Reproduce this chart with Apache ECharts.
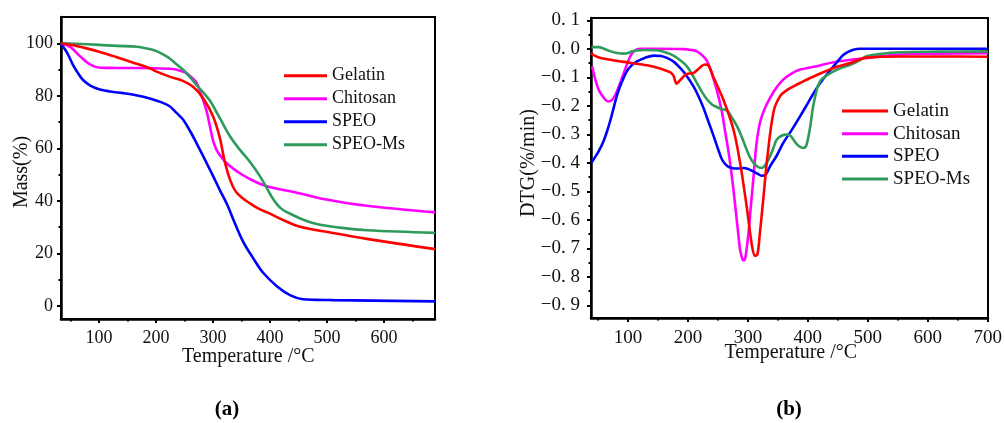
<!DOCTYPE html>
<html>
<head>
<meta charset="utf-8">
<script src="https://cdn.jsdelivr.net/npm/echarts@6/dist/echarts.min.js"></script>
<style>
html,body{margin:0;padding:0;background:#fff;}
#c{width:1005px;height:423px;}
</style>
</head>
<body>
<div id="c"></div>
<script>
// ---------- (a) TGA data ----------
const seriesNames = ['Gelatin', 'Chitosan', 'SPEO', 'SPEO-Ms'];
const seriesColors = ['#ff0000', '#ff00ff', '#0000ff', '#2e9a5c'];

const tgaGelatinT = [33, 60, 100, 130, 160, 189, 200, 225, 248, 265, 283, 300, 312, 320, 330, 340, 352, 365, 380, 399, 423, 453, 499, 570, 690];
const tgaGelatinM = [100, 99, 96.8, 94.8, 92.6, 90.5, 89.3, 87.2, 85.6, 83.4, 79, 72.2, 64, 55.5, 48, 43.5, 41, 39, 37, 35.2, 32.7, 30.1, 28.2, 25.5, 21.6];

const tgaChitosanT = [33, 50, 67, 84, 102, 130, 200, 230, 242, 252, 260, 271, 280, 289, 295, 300, 306, 312, 324, 347, 365, 382, 399, 453, 499, 570, 690];
const tgaChitosanM = [100, 98.5, 95, 92, 90.7, 90.6, 90.5, 90.2, 89.6, 88.8, 87.5, 85, 80, 74, 68, 63, 59.5, 57.4, 54.3, 50.5, 48.3, 46.5, 45.3, 42.8, 40.5, 38.1, 35.6];

const tgaSpeoT = [33, 45, 55, 65, 72, 84, 100, 120, 142, 165, 189, 210, 224, 236, 248, 260, 271, 289, 300, 312, 325, 336, 353, 371, 388, 412, 435, 458, 480, 511, 690];
const tgaSpeoM = [100, 96, 91.5, 88, 86, 84, 82.5, 81.6, 81, 80.2, 79, 77.5, 76, 73.5, 70.8, 66.5, 62, 54.3, 49.5, 44.1, 38.5, 32.7, 24.4, 18, 12.6, 7.5, 4.1, 2.5, 2.3, 2.2, 1.7];

const tgaSpeoMsT = [33, 60, 100, 131, 166, 189, 201, 212, 224, 236, 248, 260, 271, 282, 295, 312, 330, 347, 365, 382, 394, 406, 415, 423, 438, 453, 475, 499, 530, 570, 690];
const tgaSpeoMsM = [100, 99.8, 99.4, 99, 98.7, 97.8, 97, 95.8, 94.2, 92, 89.8, 87, 84.1, 81.5, 78, 71.5, 64.5, 59.5, 54.8, 49.5, 45, 40.5, 38, 36.5, 34.8, 33.3, 31.6, 30.5, 29.6, 28.8, 27.8];

// ---------- (b) DTG data ----------
const dtgGelatinT = [38, 45, 54, 75, 100, 132, 155, 170, 176, 181, 187, 198, 209, 218, 228, 234, 243, 259, 276, 287, 298, 307, 312, 316, 320, 326, 332, 343, 354, 365, 376, 387, 415, 443, 471, 498, 554, 620, 700];
const dtgGelatinV = [-0.015, -0.025, -0.032, -0.04, -0.048, -0.058, -0.07, -0.082, -0.095, -0.122, -0.11, -0.088, -0.085, -0.07, -0.055, -0.058, -0.102, -0.178, -0.284, -0.40, -0.553, -0.693, -0.726, -0.72, -0.646, -0.52, -0.389, -0.219, -0.165, -0.145, -0.132, -0.12, -0.092, -0.067, -0.05, -0.031, -0.027, -0.027, -0.028];

const dtgChitosanT = [40, 51, 62, 67, 73, 79, 86, 93, 100, 107, 114, 121, 150, 193, 205, 215, 225, 232, 238, 243, 250, 257, 262, 268, 274, 279, 284, 287, 291, 293, 296, 301, 305, 309, 314, 320, 328, 337, 348, 359, 372, 387, 415, 443, 498, 554, 620, 700];
const dtgChitosanV = [-0.061, -0.143, -0.178, -0.185, -0.18, -0.161, -0.125, -0.085, -0.045, -0.015, -0.003, 0.0, 0.0, -0.001, -0.004, -0.009, -0.025, -0.044, -0.075, -0.108, -0.16, -0.225, -0.29, -0.365, -0.46, -0.553, -0.65, -0.705, -0.738, -0.742, -0.73, -0.646, -0.55, -0.459, -0.34, -0.26, -0.21, -0.172, -0.135, -0.108, -0.088, -0.073, -0.061, -0.047, -0.032, -0.02, -0.017, -0.015];

const dtgSpeoT = [39, 45, 51, 59, 65, 71, 77, 82, 90, 98, 106, 115, 128, 143, 155, 165, 176, 187, 198, 209, 218, 226, 235, 243, 250, 257, 265, 273, 283, 293, 301, 309, 316, 323, 330, 337, 348, 359, 373, 387, 401, 415, 429, 443, 452, 459, 468, 476, 487, 498, 550, 620, 700];
const dtgSpeoV = [-0.40, -0.38, -0.36, -0.325, -0.29, -0.248, -0.2, -0.161, -0.115, -0.079, -0.058, -0.044, -0.032, -0.024, -0.025, -0.032, -0.045, -0.067, -0.095, -0.131, -0.168, -0.208, -0.26, -0.307, -0.35, -0.389, -0.41, -0.418, -0.42, -0.418, -0.422, -0.43, -0.438, -0.445, -0.44, -0.412, -0.375, -0.33, -0.285, -0.237, -0.187, -0.137, -0.097, -0.061, -0.038, -0.022, -0.01, -0.003, 0.0, 0.0, 0.0, 0.0, 0.0];

const dtgSpeoMsT = [39, 51, 60, 71, 82, 93, 100, 107, 115, 126, 148, 162, 176, 187, 198, 207, 215, 223, 232, 240, 248, 257, 265, 273, 282, 290, 298, 306, 315, 323, 330, 337, 343, 348, 356, 365, 371, 376, 382, 388, 393, 398, 404, 409, 415, 420, 426, 434, 443, 457, 471, 485, 498, 520, 554, 620, 700];
const dtgSpeoMsV = [0.006, 0.006, 0.0, -0.009, -0.015, -0.017, -0.015, -0.009, -0.006, -0.004, -0.005, -0.012, -0.024, -0.04, -0.061, -0.09, -0.12, -0.15, -0.178, -0.195, -0.204, -0.212, -0.216, -0.24, -0.272, -0.31, -0.354, -0.39, -0.412, -0.418, -0.405, -0.377, -0.345, -0.319, -0.305, -0.301, -0.305, -0.319, -0.335, -0.345, -0.348, -0.335, -0.272, -0.2, -0.143, -0.115, -0.102, -0.09, -0.079, -0.066, -0.056, -0.042, -0.026, -0.018, -0.012, -0.01, -0.009];

// ---------- tick labels ----------
const tgaXTicks = [100, 200, 300, 400, 500, 600];
const tgaXMinor = [50, 150, 250, 350, 450, 550, 650];
const tgaYTicks = [0, 20, 40, 60, 80, 100];
const tgaYMinor = [10, 30, 50, 70, 90];
const dtgXTicks = [100, 200, 300, 400, 500, 600, 700];
const dtgXMinor = [50, 150, 250, 350, 450, 550, 650];
const dtgYTicks = [0.1, 0.0, -0.1, -0.2, -0.3, -0.4, -0.5, -0.6, -0.7, -0.8, -0.9];
const dtgYMinor = [0.05, -0.05, -0.15, -0.25, -0.35, -0.45, -0.55, -0.65, -0.75, -0.85];

const zip = (a, b) => a.map((t, i) => [t, b[i]]);
const tgaData = [zip(tgaGelatinT, tgaGelatinM), zip(tgaChitosanT, tgaChitosanM), zip(tgaSpeoT, tgaSpeoM), zip(tgaSpeoMsT, tgaSpeoMsM)];
const dtgData = [zip(dtgGelatinT, dtgGelatinV), zip(dtgChitosanT, dtgChitosanV), zip(dtgSpeoT, dtgSpeoV), zip(dtgSpeoMsT, dtgSpeoMsV)];

const FONT = '"Liberation Serif", "Times New Roman", serif';
const TXT = '#111';

function mainAxis(opts) {
  return Object.assign({
    type: 'value',
    axisLine: { show: true, onZero: false, lineStyle: { color: '#000', width: 2.5 } },
    splitLine: { show: false }
  }, opts);
}
function minorAxis(opts) {
  return Object.assign({
    type: 'value',
    axisLine: { show: false, onZero: false },
    splitLine: { show: false },
    axisLabel: { show: false }
  }, opts);
}
const majorTick = vals => ({ show: true, inside: false, length: 4, lineStyle: { color: '#000', width: 2 }, customValues: vals });
const minorTickOf = vals => ({ show: true, inside: false, length: 2.5, lineStyle: { color: '#000', width: 2 }, customValues: vals });

const fmtDtg = v => {
  const s = Math.abs(v).toFixed(1).replace('.', '. ');
  return (v < -1e-9 ? '\u2212' : '') + s;
};

const series = [];
seriesNames.forEach((n, i) => {
  series.push({
    name: n, type: 'line', xAxisIndex: 0, yAxisIndex: 0, data: tgaData[i],
    showSymbol: false, smooth: 0.35, color: seriesColors[i],
    lineStyle: { width: 2.6, color: seriesColors[i] }, z: 3 + (i === 0 ? 1 : 0)
  });
});
seriesNames.forEach((n, i) => {
  series.push({
    name: n, type: 'line', xAxisIndex: 2, yAxisIndex: 2, data: dtgData[i],
    showSymbol: false, smooth: 0.35, color: seriesColors[i],
    lineStyle: { width: 2.6, color: seriesColors[i] }, z: 3 + (i === 0 ? 1 : 0)
  });
});

const chart = echarts.init(document.getElementById('c'), null, { renderer: 'canvas' });
chart.setOption({
  backgroundColor: '#fff',
  animation: false,
  grid: [
    { left: 61, top: 17, width: 374, height: 302, show: true, borderColor: '#000', borderWidth: 2, backgroundColor: 'transparent' },
    { left: 591, top: 18, width: 397, height: 300, show: true, borderColor: '#000', borderWidth: 2, backgroundColor: 'transparent' }
  ],
  xAxis: [
    mainAxis({ gridIndex: 0, position: 'bottom', min: 33.3, max: 689.5, axisLabel: { fontFamily: FONT, fontSize: 18, color: TXT, margin: 10, customValues: tgaXTicks }, axisTick: majorTick(tgaXTicks) }),
    minorAxis({ gridIndex: 0, position: 'bottom', min: 33.3, max: 689.5, axisTick: minorTickOf(tgaXMinor) }),
    mainAxis({ gridIndex: 1, position: 'bottom', min: 38.3, max: 700.5, axisLabel: { fontFamily: FONT, fontSize: 19, color: TXT, margin: 11, customValues: dtgXTicks }, axisTick: majorTick(dtgXTicks) }),
    minorAxis({ gridIndex: 1, position: 'bottom', min: 38.3, max: 700.5, axisTick: minorTickOf(dtgXMinor) })
  ],
  yAxis: [
    mainAxis({ gridIndex: 0, position: 'left', min: -5, max: 110, axisLabel: { fontFamily: FONT, fontSize: 18, color: TXT, margin: 8, customValues: tgaYTicks }, axisTick: majorTick(tgaYTicks) }),
    minorAxis({ gridIndex: 0, position: 'left', offset: 0, min: -5, max: 110, axisTick: minorTickOf(tgaYMinor) }),
    mainAxis({ gridIndex: 1, position: 'left', min: -0.944, max: 0.108, axisLabel: { fontFamily: FONT, fontSize: 19, color: TXT, margin: 11, customValues: dtgYTicks, formatter: fmtDtg }, axisTick: majorTick(dtgYTicks) }),
    minorAxis({ gridIndex: 1, position: 'left', offset: 0, min: -0.944, max: 0.108, axisTick: minorTickOf(dtgYMinor) })
  ],
  legend: [
    { data: seriesNames, orient: 'vertical', left: 279, top: 59.2, itemWidth: 43, itemHeight: 3, itemGap: 0, icon: 'rect',
      textStyle: { fontFamily: FONT, fontSize: 18, color: TXT, lineHeight: 23 } },
    { data: seriesNames, orient: 'vertical', left: 837, top: 94.6, itemWidth: 46, itemHeight: 3, itemGap: 0, icon: 'rect',
      textStyle: { fontFamily: FONT, fontSize: 19, color: TXT, lineHeight: 22.7 } }
  ],
  graphic: [
    { type: 'text', x: 248.3, y: 357, style: { text: 'Temperature /\u00B0C', font: '20px ' + FONT, fill: TXT, textAlign: 'center', textVerticalAlign: 'middle' } },
    { type: 'text', x: 790.8, y: 353, style: { text: 'Temperature /\u00B0C', font: '20px ' + FONT, fill: TXT, textAlign: 'center', textVerticalAlign: 'middle' } },
    { type: 'text', x: 22, y: 172, rotation: Math.PI / 2, style: { text: 'Mass(%)', font: '20px ' + FONT, fill: TXT, textAlign: 'center', textVerticalAlign: 'middle' } },
    { type: 'text', x: 528.5, y: 163, rotation: Math.PI / 2, style: { text: 'DTG(%/min)', font: '20px ' + FONT, fill: TXT, textAlign: 'center', textVerticalAlign: 'middle' } },
    { type: 'text', x: 227, y: 410, style: { text: '(a)', font: 'bold 21px ' + FONT, fill: '#000', textAlign: 'center', textVerticalAlign: 'middle' } },
    { type: 'text', x: 789, y: 410, style: { text: '(b)', font: 'bold 21px ' + FONT, fill: '#000', textAlign: 'center', textVerticalAlign: 'middle' } }
  ],
  series: series
});
</script>
</body>
</html>
